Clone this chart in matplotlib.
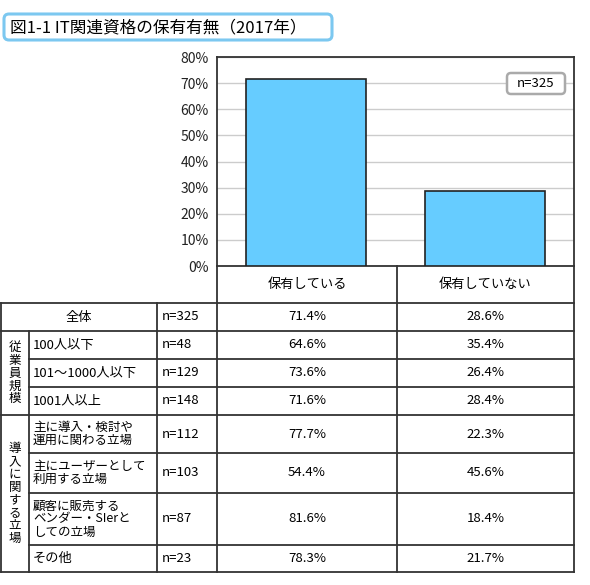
import matplotlib
matplotlib.use('Agg')
import matplotlib.pyplot as plt
from matplotlib.patches import FancyBboxPatch

plt.rcParams['font.family'] = ['Noto Sans CJK JP', 'DejaVu Sans']

# ── Data ─────────────────────────────────────────────
TITLE = '図1-1 IT関連資格の保有有無（2017年）'
CATEGORIES = ['保有している', '保有していない']
TOTAL_N = 'n=325'
TOTAL_VALUES = [71.4, 28.6]
Y_TICKS = [0, 10, 20, 30, 40, 50, 60, 70, 80]

ROW_LABELS = ['全体', '100人以下', '101～1000人以下', '1001人以上',
              '主に導入・検討や\n運用に関わる立場', '主にユーザーとして\n利用する立場',
              '顧客に販売する\nベンダー・SIerと\nしての立場', 'その他']
ROW_N = ['n=325', 'n=48', 'n=129', 'n=148', 'n=112', 'n=103', 'n=87', 'n=23']
HAVE = [71.4, 64.6, 73.6, 71.6, 77.7, 54.4, 81.6, 78.3]
HAVE_NOT = [28.6, 35.4, 26.4, 28.4, 22.3, 45.6, 18.4, 21.7]
GROUPS = [('従業員規模', 1, 4), ('導入に関する立場', 4, 8)]

# ── Layout (pixels) ──────────────────────────────────
W, H = 590, 585
PLOT_L, PLOT_R, PLOT_T, PLOT_B = 217, 574, 57, 266
CAT_B = 303
ROW_Y = [303, 331, 359, 387, 415, 453, 493, 545, 572]
X_LEFT, X_GRP, X_LBL, X_MID = 1, 29, 157, 397
LINE = '#333333'
BAR_COLOR = '#66CCFF'
FS = 9.5

fig = plt.figure(figsize=(W / 100, H / 100), dpi=100)

# ── Bar chart ────────────────────────────────────────
ax = fig.add_axes([PLOT_L / W, (H - PLOT_B) / H,
                   (PLOT_R - PLOT_L) / W, (PLOT_B - PLOT_T) / H])
x = range(len(CATEGORIES))
ax.bar(x, TOTAL_VALUES, width=0.67, color=BAR_COLOR, edgecolor='#222222',
       linewidth=1.2, zorder=3)
ax.set_xlim(-0.5, len(CATEGORIES) - 0.5)
ax.set_ylim(0, 80)
ax.set_yticks(Y_TICKS)
ax.set_yticklabels([f'{t}%' for t in Y_TICKS], fontsize=10, color='#222222')
ax.set_xticks([])
ax.tick_params(axis='y', length=0, pad=6)
ax.yaxis.grid(True, color='#cccccc', lw=1, zorder=0)
for s in ax.spines.values():
    s.set_color(LINE)
    s.set_linewidth(1.3)

# overlay axes in pixel coordinates, drawn above the bar chart
ov = fig.add_axes([0, 0, 1, 1])
ov.set_xlim(0, W)
ov.set_ylim(H, 0)
ov.axis('off')
ov.patch.set_visible(False)
ov.set_zorder(2)

# n=325 box
ov.add_patch(FancyBboxPatch((507, 73), 58, 21, boxstyle='round,pad=0,rounding_size=4',
                            fc='white', ec='#aaaaaa', lw=1.8, zorder=5))
ov.text(536, 83.5, TOTAL_N, ha='center', va='center', fontsize=FS, zorder=6)

# ── Title ────────────────────────────────────────────
ov.add_patch(FancyBboxPatch((4, 14), 328, 26, boxstyle='round,pad=0,rounding_size=5',
                            fc='white', ec='#7cc8f0', lw=2.2))
ov.text(10, 27.5, TITLE, ha='left', va='center', fontsize=12)

# ── Category header row ──────────────────────────────
col_centers = [(PLOT_L + X_MID) / 2, (X_MID + PLOT_R) / 2]
for cx, cat in zip(col_centers, CATEGORIES):
    ov.text(cx, (PLOT_B + CAT_B) / 2, cat, ha='center', va='center', fontsize=FS)

def hline(y, x0, x1):
    ov.plot([x0, x1], [y, y], color=LINE, lw=1.3, solid_capstyle='projecting')

def vline(xv, y0, y1):
    ov.plot([xv, xv], [y0, y1], color=LINE, lw=1.3, solid_capstyle='projecting')

vline(PLOT_L, PLOT_B, ROW_Y[-1])
vline(X_MID, PLOT_B, ROW_Y[-1])
vline(PLOT_R, PLOT_B, ROW_Y[-1])

# ── Table ────────────────────────────────────────────
full_rows = {0, 1, 4, 8}
for i, y in enumerate(ROW_Y):
    hline(y, X_LEFT if i in full_rows else X_GRP, PLOT_R)
vline(X_LEFT, ROW_Y[0], ROW_Y[-1])
vline(X_GRP, ROW_Y[1], ROW_Y[-1])
vline(X_LBL, ROW_Y[0], ROW_Y[-1])

for i, (lab, n, a, b) in enumerate(zip(ROW_LABELS, ROW_N, HAVE, HAVE_NOT)):
    yc = (ROW_Y[i] + ROW_Y[i + 1]) / 2
    if i == 0:
        ov.text((X_LEFT + X_LBL) / 2, yc, lab, ha='center', va='center', fontsize=FS)
    else:
        fs = 9 if '\n' in lab else FS
        ov.text(X_GRP + 4, yc, lab, ha='left', va='center', fontsize=fs,
                linespacing=1.0)
    ov.text(X_LBL + 5, yc, n, ha='left', va='center', fontsize=FS)
    ov.text(col_centers[0], yc, f'{a:.1f}%', ha='center', va='center', fontsize=FS)
    ov.text(col_centers[1], yc, f'{b:.1f}%', ha='center', va='center', fontsize=FS)

for name, r0, r1 in GROUPS:
    yc = (ROW_Y[r0] + ROW_Y[r1]) / 2
    ov.text((X_LEFT + X_GRP) / 2, yc, '\n'.join(name), ha='center', va='center',
            fontsize=9, linespacing=0.98)

fig.savefig('out.png', dpi=100)
